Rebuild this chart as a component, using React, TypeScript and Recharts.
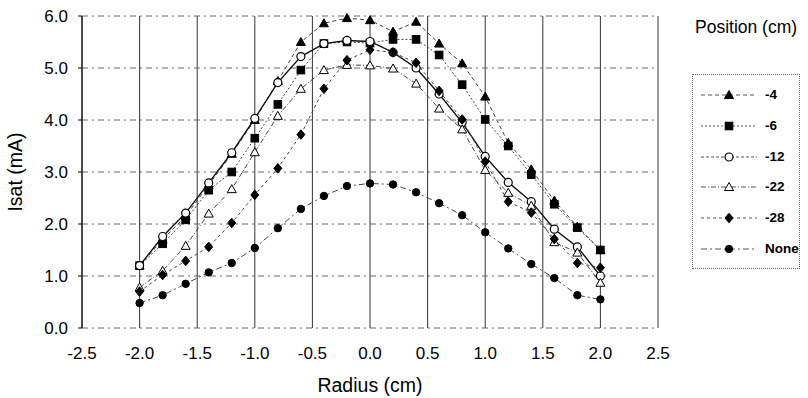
import React from 'react';
import { LineChart, Line, XAxis, YAxis, CartesianGrid, Legend, Label } from 'recharts';

const FONT = '"Liberation Sans", Arial, sans-serif';

const radius = [-2.0, -1.8, -1.6, -1.4, -1.2, -1.0, -0.8, -0.6, -0.4, -0.2, 0.0, 0.2, 0.4, 0.6, 0.8, 1.0, 1.2, 1.4, 1.6, 1.8, 2.0];
const posMinus4 = [1.2, 1.7, 2.15, 2.75, 3.35, 4.0, 4.75, 5.5, 5.86, 5.96, 5.92, 5.7, 5.89, 5.47, 5.09, 4.45, 3.56, 3.05, 2.45, 1.95, 1.5];
const posMinus6 = [1.2, 1.62, 2.08, 2.65, 3.0, 3.65, 4.3, 4.96, 5.47, 5.5, 5.48, 5.55, 5.55, 5.25, 4.68, 4.01, 3.5, 2.95, 2.38, 1.93, 1.5];
const posMinus12 = [1.2, 1.76, 2.21, 2.79, 3.37, 4.03, 4.72, 5.22, 5.47, 5.53, 5.51, 5.3, 5.0, 4.5, 3.95, 3.3, 2.8, 2.43, 1.9, 1.56, 1.0];
const posMinus22 = [0.78, 1.1, 1.58, 2.2, 2.67, 3.38, 4.08, 4.6, 4.96, 5.06, 5.05, 4.99, 4.7, 4.22, 3.82, 3.04, 2.6, 2.35, 1.65, 1.45, 0.87];
const posMinus28 = [0.7, 1.02, 1.29, 1.56, 2.02, 2.56, 3.07, 3.72, 4.6, 5.15, 5.35, 5.3, 5.1, 4.56, 4.01, 3.2, 2.43, 2.22, 1.71, 1.25, 1.16];
const posNone = [0.48, 0.63, 0.85, 1.07, 1.25, 1.54, 1.92, 2.29, 2.54, 2.73, 2.78, 2.76, 2.61, 2.4, 2.17, 1.84, 1.53, 1.23, 0.96, 0.63, 0.55];

const xTicks = [-2.5, -2.0, -1.5, -1.0, -0.5, 0.0, 0.5, 1.0, 1.5, 2.0, 2.5];
const yTicks = [0, 1, 2, 3, 4, 5, 6];

const seriesDefs = [
  { key: 'm4', name: '-4', values: posMinus4, shape: 'triangle', filled: true, dash: '4 3', width: 1 },
  { key: 'm6', name: '-6', values: posMinus6, shape: 'square', filled: true, dash: '2 2', width: 1 },
  { key: 'm12', name: '-12', values: posMinus12, shape: 'circle', filled: false, dash: undefined, width: 1.4 },
  { key: 'm22', name: '-22', values: posMinus22, shape: 'triangle', filled: false, dash: '5 2 1 2', width: 1 },
  { key: 'm28', name: '-28', values: posMinus28, shape: 'diamond', filled: true, dash: '3 3', width: 1 },
  { key: 'none', name: 'None', values: posNone, shape: 'dot', filled: true, dash: '6 3 2 3', width: 1 },
];

const data = radius.map((r, i) => {
  const row: any = { r };
  seriesDefs.forEach((s) => {
    row[s.key] = s.values[i];
  });
  return row;
});

function Marker({ shape, filled, cx, cy }: { shape: string; filled: boolean; cx: number; cy: number }) {
  const fill = filled ? '#000' : '#fff';
  const stroke = '#000';
  if (cx == null || cy == null) return null;
  switch (shape) {
    case 'triangle':
      return (
        <polygon
          points={`${cx},${cy - 4.5} ${cx + 4.5},${cy + 3.5} ${cx - 4.5},${cy + 3.5}`}
          fill={fill}
          stroke={stroke}
          strokeWidth={1}
        />
      );
    case 'square':
      return <rect x={cx - 3.8} y={cy - 3.8} width={7.6} height={7.6} fill={fill} stroke={stroke} strokeWidth={1} />;
    case 'diamond':
      return (
        <polygon
          points={`${cx},${cy - 4.8} ${cx + 4},${cy} ${cx},${cy + 4.8} ${cx - 4},${cy}`}
          fill={fill}
          stroke={stroke}
          strokeWidth={1}
        />
      );
    case 'circle':
      return <circle cx={cx} cy={cy} r={4} fill={fill} stroke={stroke} strokeWidth={1.2} />;
    default:
      return <circle cx={cx} cy={cy} r={3.7} fill={fill} stroke={stroke} strokeWidth={1} />;
  }
}

function LegendBox() {
  return (
    <div style={{ position: 'relative', width: 118, height: 260, fontFamily: FONT, color: '#000' }}>
      <div style={{ position: 'absolute', left: 5, top: 2, fontSize: 17.5, lineHeight: '22px', whiteSpace: 'nowrap' }}>
        Position (cm)
      </div>
      <div
        style={{
          position: 'absolute',
          left: 2,
          top: 60,
          width: 106,
          height: 193,
          border: '1px dotted #666',
        }}
      >
        {seriesDefs.map((s, i) => (
          <div key={s.key} style={{ position: 'absolute', left: 0, top: 20 + i * 30.8 - 8, height: 16, width: 106 }}>
            <svg width={60} height={16} style={{ position: 'absolute', left: 6, top: 0 }}>
              <line x1={2} y1={8} x2={58} y2={8} stroke="#555" strokeWidth={1} strokeDasharray={s.dash || '3 2'} />
              <Marker shape={s.shape} filled={s.filled} cx={30} cy={8} />
            </svg>
            <span
              style={{
                position: 'absolute',
                left: 72,
                top: 0,
                lineHeight: '16px',
                fontSize: 13.5,
                fontWeight: 'bold',
              }}
            >
              {s.name}
            </span>
          </div>
        ))}
      </div>
    </div>
  );
}

export default function App() {
  return (
    <div style={{ position: 'absolute', left: 0, top: 0, width: 808, height: 398, background: '#fff' }}>
      <LineChart width={808} height={398} data={data} margin={{ top: 16, right: 32, bottom: 0, left: 0 }} style={{ fontFamily: FONT }}>
        <CartesianGrid horizontal={false} stroke="#333" strokeWidth={1} />
        <CartesianGrid vertical={false} stroke="#666" strokeWidth={1} strokeDasharray="6 4 2 4" />
        <XAxis
          dataKey="r"
          type="number"
          domain={[-2.5, 2.5]}
          ticks={xTicks}
          interval={0}
          tickFormatter={(v: number) => v.toFixed(1)}
          height={70}
          tickSize={0}
          tickMargin={19}
          axisLine={false}
          tickLine={false}
          tick={{ fill: '#000', fontSize: 17, fontFamily: FONT }}
        >
          <Label value="Radius (cm)" position="insideBottom" offset={6} style={{ fill: '#000', fontSize: 19.5, fontFamily: FONT }} />
        </XAxis>
        <YAxis
          type="number"
          domain={[0, 6]}
          ticks={yTicks}
          interval={0}
          tickFormatter={(v: number) => v.toFixed(1)}
          width={82}
          tickSize={4}
          tickMargin={10}
          axisLine={{ stroke: '#000' }}
          tickLine={{ stroke: '#000' }}
          tick={{ fill: '#000', fontSize: 17, fontFamily: FONT }}
        >
          <Label
            value="Isat (mA)"
            angle={-90}
            position="insideLeft"
            offset={15}
            style={{ fill: '#000', fontSize: 19.5, fontFamily: FONT, textAnchor: 'middle' }}
          />
        </YAxis>
        <Legend
          layout="vertical"
          align="right"
          verticalAlign="top"
          wrapperStyle={{ position: 'absolute', left: 690, top: 14, width: 118 }}
          content={() => <LegendBox />}
        />
        {seriesDefs.map((s) => (
          <Line
            key={s.key}
            dataKey={s.key}
            name={s.name}
            isAnimationActive={false}
            stroke={s.key === 'm12' ? '#111' : '#444'}
            strokeWidth={s.width}
            strokeDasharray={s.dash}
            dot={(p: any) => <Marker key={`${s.key}-${p.index}`} shape={s.shape} filled={s.filled} cx={p.cx} cy={p.cy} />}
            activeDot={false}
          />
        ))}
      </LineChart>
    </div>
  );
}
